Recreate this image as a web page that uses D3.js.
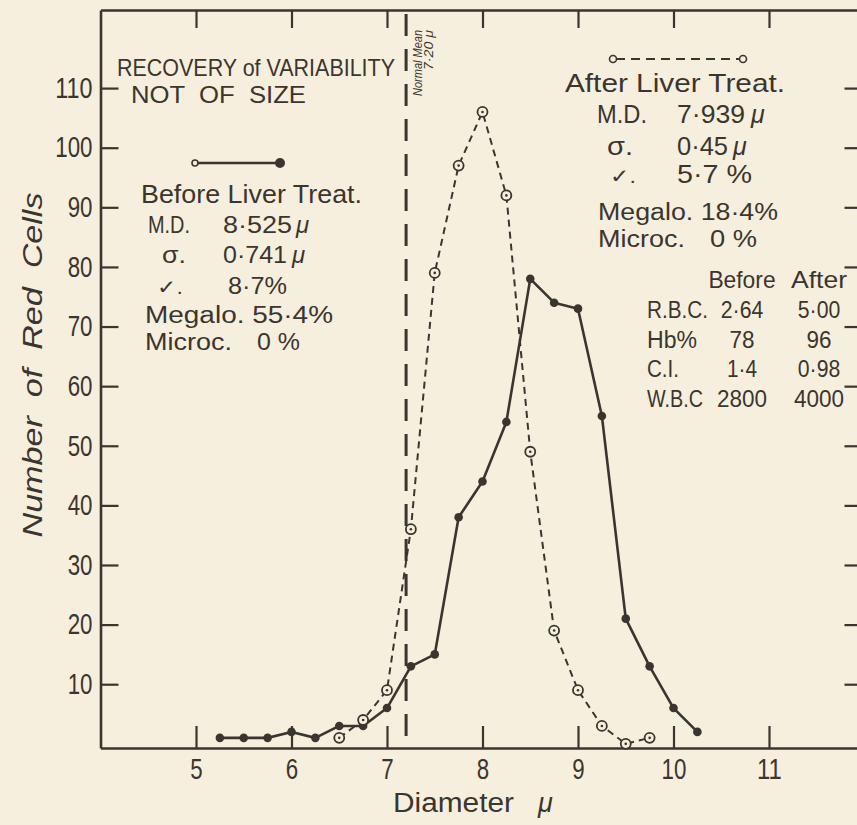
<!DOCTYPE html>
<html>
<head>
<meta charset="utf-8">
<script src="https://cdn.jsdelivr.net/npm/d3@7"></script>
<style>
  html, body { margin: 0; padding: 0; background: #f7efdd; }
  svg { display: block; }
  text { font-family: "Liberation Sans", Arial, sans-serif; fill: #3b3530; white-space: pre; }
</style>
</head>
<body>
<div id="chart"></div>
<script>
var WIDTH = 857;
var HEIGHT = 825;
var INK = "#3b3530";
var PAPER = "#f7efdd";

// distribution of red cell diameters (micra) before / after liver treatment
var diameterBefore = [5.25, 5.5, 5.75, 6, 6.25, 6.5, 6.75, 7, 7.25, 7.5, 7.75, 8, 8.25, 8.5, 8.75, 9, 9.25, 9.5, 9.75, 10, 10.25];
var countBefore    = [1, 1, 1, 2, 1, 3, 3, 6, 13, 15, 38, 44, 54, 78, 74, 73, 55, 21, 13, 6, 2];
var diameterAfter  = [6.5, 6.75, 7, 7.25, 7.5, 7.75, 8, 8.25, 8.5, 8.75, 9, 9.25, 9.5, 9.75];
var countAfter     = [1, 4, 9, 36, 79, 97, 106, 92, 49, 19, 9, 3, 0, 1];

var xTicks = [5, 6, 7, 8, 9, 10, 11];
var yTicks = [10, 20, 30, 40, 50, 60, 70, 80, 90, 100, 110];
var normalMean = 7.2;

var tableHeader = ["Before", "After"];
var tableLabels = ["R.B.C.", "Hb%", "C.I.", "W.B.C"];
var tableBefore = ["2·64", "78", "1·4", "2800"];
var tableAfter  = ["5·00", "96", "0·98", "4000"];


function label(g, str, x, y, size, opts)
{
    opts = opts || {};
    var t = g.append("text")
        .attr("x", x)
        .attr("y", y)
        .attr("font-size", size)
        .attr("text-anchor", opts.anchor || "start")
        .text(str);
    if (opts.italic) t.attr("font-style", "italic");
    if (opts.width) t.attr("textLength", opts.width).attr("lengthAdjust", "spacingAndGlyphs");
    if (opts.transform) t.attr("transform", opts.transform);
    return t;
}

// rough width of a number string in the narrow lettering
function numWidth(v)
{
    var digits = v.replace("·", "").length;
    return digits * 12.5 + (v.indexOf("·") >= 0 ? 5 : 0);
}


function makeChart()
{
    var svg = d3.select("#chart").append("svg")
                .attr("width", WIDTH)
                .attr("height", HEIGHT);

    svg.append("rect")
       .attr("width", WIDTH)
       .attr("height", HEIGHT)
       .attr("fill", PAPER);

    var x = d3.scaleLinear().domain([4, 12]).range([100.5, 864.5]);
    var y = d3.scaleLinear().domain([-0.7, 123.1]).range([748, 10]);

    // frame + ticks
    var bottom = svg.append("g").attr("transform", "translate(0," + y.range()[0] + ")")
        .call(d3.axisBottom(x).tickValues(xTicks).tickSizeInner(-22).tickSizeOuter(0).tickPadding(10));
    var top = svg.append("g").attr("transform", "translate(0," + y.range()[1] + ")")
        .call(d3.axisTop(x).tickValues(xTicks).tickSizeInner(-18).tickSizeOuter(0).tickFormat(""));
    var left = svg.append("g").attr("transform", "translate(" + x.range()[0] + ",0)")
        .call(d3.axisLeft(y).tickValues(yTicks).tickSizeInner(-18).tickSizeOuter(0).tickPadding(8));
    var right = svg.append("g").attr("transform", "translate(" + x.range()[1] + ",0)")
        .call(d3.axisRight(y).tickValues(yTicks).tickSizeInner(-20).tickSizeOuter(0).tickFormat(""));

    [bottom, top, left, right].forEach(function(a) {
        a.attr("font-family", null).attr("font-size", null);
        a.select(".domain").attr("stroke", INK).attr("stroke-width", 2.6);
        a.selectAll(".tick line").attr("stroke", INK).attr("stroke-width", 2.2);
    });
    [bottom, left].forEach(function(a) {
        a.selectAll(".tick text")
         .attr("fill", INK)
         .attr("font-size", 29)
         .attr("textLength", function(d) { return String(d).length * 12.4; })
         .attr("lengthAdjust", "spacingAndGlyphs");
    });

    // normal mean marker
    svg.append("line")
       .attr("x1", x(normalMean)).attr("x2", x(normalMean))
       .attr("y1", 14).attr("y2", y.range()[0])
       .attr("stroke", INK)
       .attr("stroke-width", 3)
       .attr("stroke-dasharray", "22,13");
    label(svg, "Normal Mean", 0, 0, 13, { italic: true, width: 66,
          transform: "translate(" + (x(normalMean) + 16) + ",96) rotate(-90)" });
    label(svg, "7·20 μ", 0, 0, 13, { italic: true, width: 40,
          transform: "translate(" + (x(normalMean) + 27) + ",70) rotate(-90)" });

    var line = d3.line()
                 .x(function(d) { return x(d[0]); })
                 .y(function(d) { return y(d[1]); });

    var after = d3.zip(diameterAfter, countAfter);
    var before = d3.zip(diameterBefore, countBefore);

    svg.append("path")
       .datum(after)
       .attr("d", line)
       .attr("fill", "none")
       .attr("stroke", INK)
       .attr("stroke-width", 2)
       .attr("stroke-dasharray", "7,5");

    svg.append("path")
       .datum(before)
       .attr("d", line)
       .attr("fill", "none")
       .attr("stroke", INK)
       .attr("stroke-width", 2.6)
       .attr("stroke-linejoin", "round");

    svg.selectAll(".before")
       .data(before)
       .enter().append("circle")
       .attr("class", "before")
       .attr("cx", function(d) { return x(d[0]); })
       .attr("cy", function(d) { return y(d[1]); })
       .attr("r", 4.3)
       .attr("fill", INK);

    var ap = svg.selectAll(".after")
       .data(after)
       .enter().append("g")
       .attr("class", "after")
       .attr("transform", function(d) { return "translate(" + x(d[0]) + "," + y(d[1]) + ")"; });
    ap.append("circle").attr("r", 5).attr("fill", PAPER).attr("stroke", INK).attr("stroke-width", 1.8);
    ap.append("circle").attr("r", 1.3).attr("fill", INK);

    // title
    label(svg, "RECOVERY of VARIABILITY", 117, 76, 24, { width: 278 });
    label(svg, "NOT  OF  SIZE", 131, 103, 24, { width: 175 });

    // before legend
    svg.append("line").attr("x1", 195).attr("x2", 280).attr("y1", 163).attr("y2", 163)
       .attr("stroke", INK).attr("stroke-width", 2.4);
    svg.append("circle").attr("cx", 195).attr("cy", 163).attr("r", 3)
       .attr("fill", PAPER).attr("stroke", INK).attr("stroke-width", 1.6);
    svg.append("circle").attr("cx", 280).attr("cy", 163).attr("r", 5).attr("fill", INK);

    label(svg, "Before Liver Treat.", 141, 203, 25, { width: 221 });
    label(svg, "M.D.", 148, 233, 24, { width: 42 });
    label(svg, "8·525", 223, 233, 24, { width: 69 });
    label(svg, "μ", 296, 233, 24, { italic: true });
    label(svg, "σ.", 162, 263, 24, { width: 24 });
    label(svg, "0·741", 223, 263, 24, { width: 64 });
    label(svg, "μ", 292, 263, 24, { italic: true });
    label(svg, "✓.", 157, 294, 20, { width: 26 });
    label(svg, "8·7%", 228, 294, 24, { width: 59 });
    label(svg, "Megalo. 55·4%", 145, 323, 23, { width: 188 });
    label(svg, "Microc.", 145, 350, 23, { width: 87 });
    label(svg, "0 %", 257, 350, 23, { width: 43 });

    // after legend
    svg.append("line").attr("x1", 616).attr("x2", 740).attr("y1", 59).attr("y2", 59)
       .attr("stroke", INK).attr("stroke-width", 2).attr("stroke-dasharray", "9,6");
    [613, 743].forEach(function(cx) {
        svg.append("circle").attr("cx", cx).attr("cy", 59).attr("r", 3.5)
           .attr("fill", PAPER).attr("stroke", INK).attr("stroke-width", 1.6);
    });

    label(svg, "After Liver Treat.", 565, 92, 25, { width: 220 });
    label(svg, "M.D.", 597, 123, 25, { width: 50 });
    label(svg, "7·939", 677, 123, 25, { width: 68 });
    label(svg, "μ", 751, 123, 25, { italic: true });
    label(svg, "σ.", 607, 155, 25, { width: 26 });
    label(svg, "0·45", 677, 155, 25, { width: 51 });
    label(svg, "μ", 733, 155, 25, { italic: true });
    label(svg, "✓.", 610, 183, 20, { width: 26 });
    label(svg, "5·7 %", 677, 183, 25, { width: 75 });
    label(svg, "Megalo. 18·4%", 598, 220, 23, { width: 180 });
    label(svg, "Microc.", 598, 247, 23, { width: 87 });
    label(svg, "0 %", 710, 247, 23, { width: 47 });

    // blood count table
    var colX = [742, 819];
    var labelW = [61, 50, 32, 56];
    tableHeader.forEach(function(h, i) {
        label(svg, h, colX[i], 288, 24, { anchor: "middle", width: h.length * 11.2 });
    });
    tableLabels.forEach(function(l, i) {
        var ty = 318 + i * 29.5;
        label(svg, l, 647, ty, 23, { width: labelW[i] });
        label(svg, tableBefore[i], colX[0], ty, 23, { anchor: "middle", width: numWidth(tableBefore[i]) });
        label(svg, tableAfter[i], colX[1], ty, 23, { anchor: "middle", width: numWidth(tableAfter[i]) });
    });

    // axis titles
    label(svg, "Diameter", 393, 812, 27, { width: 121 });
    label(svg, "μ", 538, 812, 27, { italic: true });
    label(svg, "Number  of  Red  Cells", 0, 0, 27, { italic: true, anchor: "middle", width: 345,
          transform: "translate(42,365) rotate(-90)" });
}


makeChart();
</script>
</body>
</html>
